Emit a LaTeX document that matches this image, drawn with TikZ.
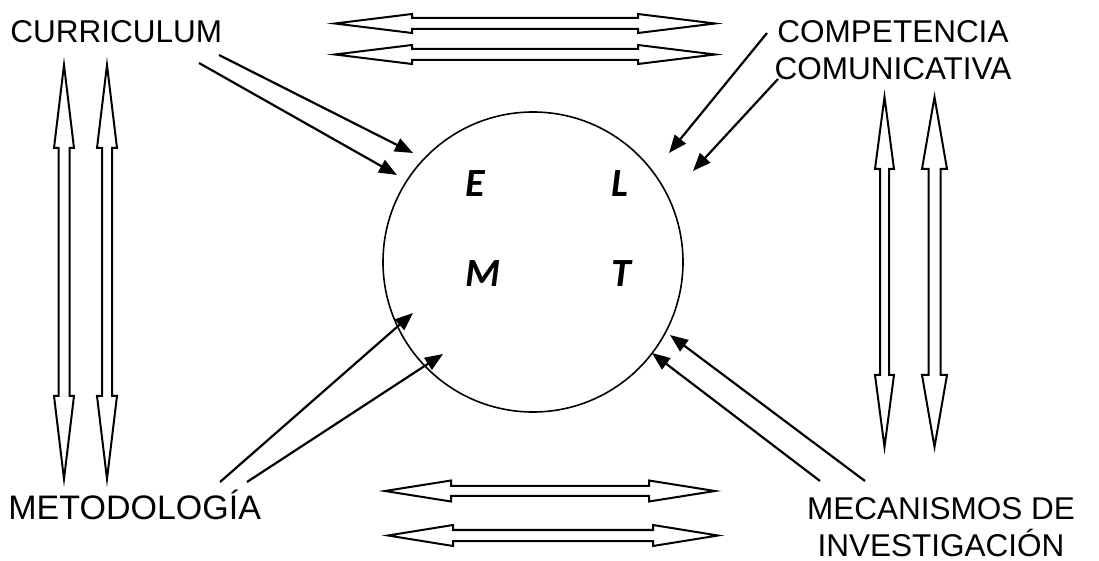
\documentclass[tikz,border=0pt]{standalone}
\usepackage{fontspec}
\setmainfont{Liberation Sans}
\newfontfamily\letterfont{Carlito}
\usetikzlibrary{arrows.meta}
\tikzset{
  blockarrow/.style={draw=black, line width=1pt, fill=white, line join=miter},
  thinarrow/.style={draw=black, line width=1.1pt, -{Triangle[length=9pt,width=7pt]}},
  lbl/.style={font=\fontsize{15.75}{18}\selectfont, inner sep=0pt},
  letter/.style={font=\letterfont\bfseries\itshape\fontsize{20}{24}\selectfont, inner sep=0pt},
  ring/.style={circle, draw=black, line width=0.8pt, minimum size=150pt, inner sep=0pt},
}
\newcommand{\hblock}[6]{%
  \draw[blockarrow] (#1,#3) -- (#1+#4,#3-#6) -- (#1+#4,#3-#5) -- (#2-#4,#3-#5) -- (#2-#4,#3-#6) -- (#2,#3) -- (#2-#4,#3+#6) -- (#2-#4,#3+#5) -- (#1+#4,#3+#5) -- (#1+#4,#3+#6) -- cycle;}
\newcommand{\vblock}[6]{%
  \draw[blockarrow] (#1,#2) -- (#1+#6,#2+#4) -- (#1+#5,#2+#4) -- (#1+#5,#3-#4) -- (#1+#6,#3-#4) -- (#1,#3) -- (#1-#6,#3-#4) -- (#1-#5,#3-#4) -- (#1-#5,#2+#4) -- (#1-#6,#2+#4) -- cycle;}
\begin{document}
\begin{tikzpicture}[x=0.5pt, y=-0.5pt]
\useasboundingbox (0,0) rectangle (1099,561);
% circle
\node[ring] (c) at (533,262) {};
% letters
\node[letter, anchor=base west] (E) at (465,197) {E};
\node[letter, anchor=base west] (L) at (611,197) {L};
\node[letter, anchor=base west] (M) at (465,287) {M};
\node[letter, anchor=base west] (T) at (611,287) {T};
% labels
\node[lbl, anchor=base west] (cur) at (10,43) {CURRICULUM};
\node[lbl, anchor=base] (comp1) at (893,43) {COMPETENCIA};
\node[lbl, anchor=base] (comp2) at (893,80) {COMUNICATIVA};
\node[lbl, anchor=base west, font=\fontsize{17}{20}\selectfont] (met) at (8,519) {METODOLOGÍA};
\node[lbl, anchor=base] (mec1) at (941,520) {MECANISMOS DE};
\node[lbl, anchor=base] (mec2) at (941,556) {INVESTIGACIÓN};
% block arrows
\hblock{335}{715}{23.5}{77}{5.5}{9.5}
\hblock{335}{715}{54.5}{77}{5.5}{9.5}
\hblock{385}{715}{491}{66}{5}{10.5}
\hblock{388}{718}{535.5}{65}{5.5}{10.5}
\vblock{64}{65}{479}{83}{5.5}{10}
\vblock{107}{65}{479}{83}{5}{10}
\vblock{884.5}{97}{447}{72}{4.5}{9.5}
\vblock{934.5}{97}{447}{72}{6}{12.5}
% thin arrow endpoints
\coordinate (cu1s) at (219,55);  \coordinate (cu1e) at (413,153);
\coordinate (cu2s) at (199,63);  \coordinate (cu2e) at (397,175);
\coordinate (co1s) at (767,33);  \coordinate (co1e) at (669,153);
\coordinate (co2s) at (778,79);  \coordinate (co2e) at (693,171);
\coordinate (me1s) at (220,482); \coordinate (me1e) at (413,313);
\coordinate (me2s) at (247,482); \coordinate (me2e) at (443,354);
\coordinate (mc1s) at (865,481); \coordinate (mc1e) at (670,335);
\coordinate (mc2s) at (820,481); \coordinate (mc2e) at (652,353);
\draw[thinarrow] (cu1s) -- (cu1e);
\draw[thinarrow] (cu2s) -- (cu2e);
\draw[thinarrow] (co1s) -- (co1e);
\draw[thinarrow] (co2s) -- (co2e);
\draw[thinarrow] (me1s) -- (me1e);
\draw[thinarrow] (me2s) -- (me2e);
\draw[thinarrow] (mc1s) -- (mc1e);
\draw[thinarrow] (mc2s) -- (mc2e);
\end{tikzpicture}
\end{document}
